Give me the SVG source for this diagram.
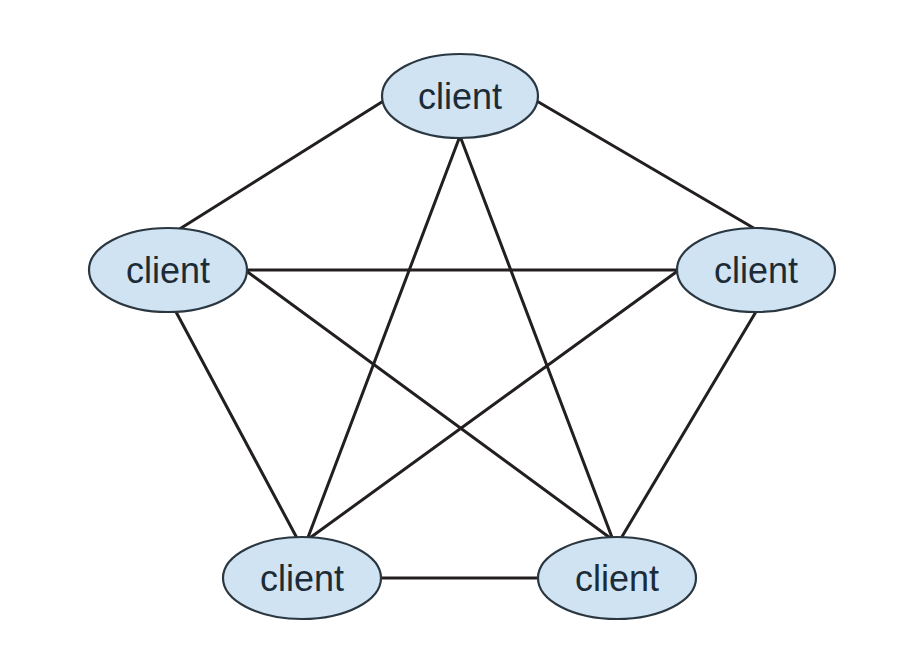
<svg xmlns="http://www.w3.org/2000/svg" width="922" height="664" viewBox="0 0 922 664">
<style>
.edge{stroke:#231f20;stroke-width:3;fill:none;stroke-linecap:round}
.node ellipse{fill:#cfe3f3;stroke:#2b3740;stroke-width:2.2}
.node text{font-family:"Liberation Sans",Arial,sans-serif;font-size:36px;fill:#1c2b36;text-anchor:middle}
</style>
<rect width="922" height="664" fill="#ffffff"/>
<g id="connectors">
<line class="edge" x1="385" y1="100" x2="178" y2="230"/>
<line class="edge" x1="535" y1="100" x2="757" y2="230"/>
<line class="edge" x1="460" y1="136" x2="307" y2="540"/>
<line class="edge" x1="460" y1="136" x2="613" y2="540"/>
<line class="edge" x1="245" y1="270" x2="679" y2="270"/>
<line class="edge" x1="175" y1="310" x2="298" y2="540"/>
<line class="edge" x1="245" y1="270" x2="613" y2="540"/>
<line class="edge" x1="679" y1="270" x2="307" y2="540"/>
<line class="edge" x1="757" y1="310" x2="620" y2="540"/>
<line class="edge" x1="380" y1="578" x2="539" y2="578"/>
</g>
<g id="node-top" class="node"><ellipse cx="460" cy="96" rx="78" ry="42"/><text x="460" y="109">client</text></g>
<g id="node-left" class="node"><ellipse cx="168" cy="270" rx="79" ry="42"/><text x="168" y="283">client</text></g>
<g id="node-right" class="node"><ellipse cx="756" cy="270" rx="79" ry="42"/><text x="756" y="283">client</text></g>
<g id="node-bottom-left" class="node"><ellipse cx="302" cy="578" rx="79" ry="41"/><text x="302" y="591">client</text></g>
<g id="node-bottom-right" class="node"><ellipse cx="617" cy="578" rx="79" ry="41"/><text x="617" y="591">client</text></g>
</svg>
